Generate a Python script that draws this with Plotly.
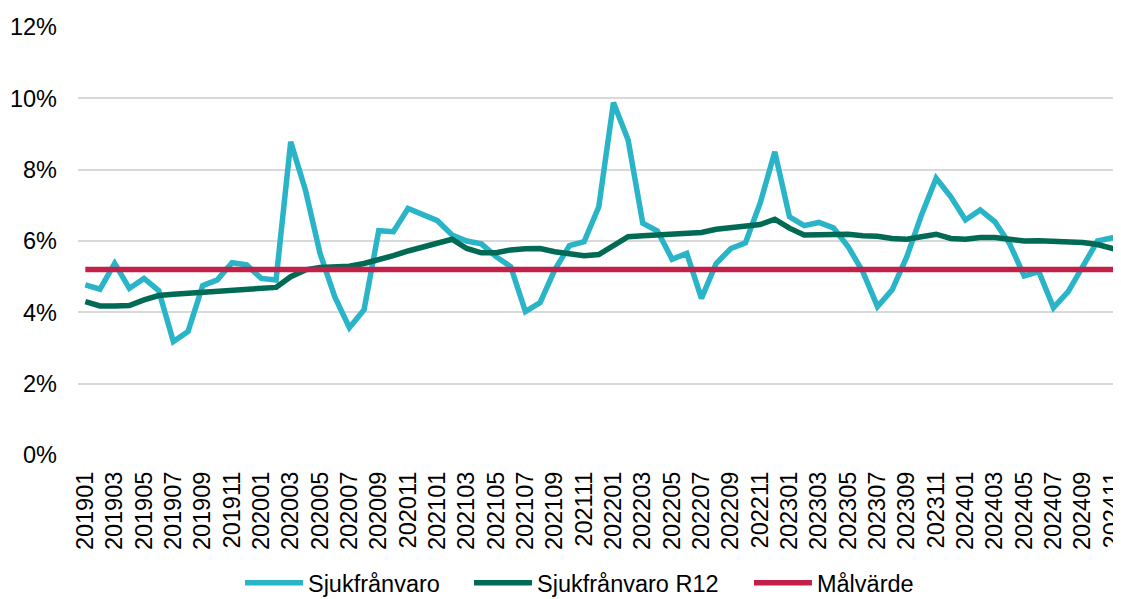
import plotly.graph_objects as go

months = [f"{y}{m:02d}" for y in range(2019, 2025) for m in range(1, 13)]

sjukfranvaro = [
    4.77, 4.65, 5.37, 4.67, 4.95, 4.61, 3.18, 3.46, 4.75, 4.91, 5.39, 5.33,
    4.95, 4.91, 8.78, 7.43, 5.65, 4.44, 3.57, 4.07, 6.29, 6.26, 6.91, 6.73,
    6.57, 6.17, 6.00, 5.92, 5.56, 5.28, 4.02, 4.27, 5.19, 5.87, 5.98, 6.96,
    9.88, 8.83, 6.50, 6.28, 5.49, 5.65, 4.39, 5.37, 5.79, 5.95, 7.06, 8.50,
    6.68, 6.43, 6.52, 6.37, 5.84, 5.14, 4.16, 4.63, 5.56, 6.73, 7.76, 7.24,
    6.59, 6.87, 6.54, 5.93, 5.02, 5.14, 4.13, 4.58, 5.33, 6.00, 6.09, 6.09,
]

sjukfranvaro_r12 = [
    4.30, 4.18, 4.18, 4.19, 4.35, 4.47, 4.51, 4.54, 4.56, 4.57, 4.63, 4.66,
    4.68, 4.70, 5.00, 5.19, 5.26, 5.28, 5.29, 5.37, 5.47, 5.59, 5.72, 5.82,
    5.95, 6.05, 5.79, 5.67, 5.67, 5.75, 5.78, 5.79, 5.70, 5.65, 5.59, 5.62,
    5.89, 6.12, 6.15, 6.17, 6.17, 6.21, 6.24, 6.33, 6.38, 6.40, 6.46, 6.61,
    6.36, 6.17, 6.17, 6.17, 6.19, 6.15, 6.13, 6.07, 6.05, 6.12, 6.19, 6.07,
    6.05, 6.10, 6.10, 6.05, 6.00, 6.01, 5.99, 5.99, 5.96, 5.90, 5.77, 5.68,
]

malvarde = [5.2] * len(months)

tick_labels = months[::2]
y_ticks = [0, 2, 4, 6, 8, 10, 12]
y_tick_text = [f"{v}%" for v in y_ticks]

FONT = "Liberation Sans, Arial, sans-serif"
FS = 23.5

fig = go.Figure()
fig.add_trace(go.Scatter(x=months, y=sjukfranvaro, name="Sjukfrånvaro", mode="lines",
                         line=dict(color="#29B4C8", width=5.5), legend="legend"))
fig.add_trace(go.Scatter(x=months, y=sjukfranvaro_r12, name="Sjukfrånvaro R12", mode="lines",
                         line=dict(color="#006A55", width=5.5), legend="legend2"))
fig.add_trace(go.Scatter(x=months, y=malvarde, name="Målvärde", mode="lines",
                         line=dict(color="#C22049", width=5.5), legend="legend3"))

def leg(x):
    return dict(orientation="h", x=x, xanchor="left", y=-0.299, yanchor="middle",
                font=dict(family=FONT, size=FS, color="#000000"), itemwidth=58,
                bgcolor="rgba(0,0,0,0)")

fig.update_layout(
    width=1113, height=591,
    margin=dict(l=70, r=0, t=19, b=144, autoexpand=False),
    paper_bgcolor="white", plot_bgcolor="white",
    font=dict(family=FONT, size=FS, color="#000000"),
    showlegend=True,
    legend=leg(0.1553),
    legend2=leg(0.3749),
    legend3=leg(0.6433),
    xaxis=dict(type="category", range=[-0.5, 70.6], tickmode="array",
               tickvals=tick_labels, ticktext=tick_labels, tickangle=-90,
               showgrid=False, showline=False, zeroline=False, ticks="",
               automargin=False,
               ticklabelstandoff=11, tickfont=dict(family=FONT, size=FS, color="#000000")),
    yaxis=dict(range=[0, 12], tickmode="array", tickvals=y_ticks, ticktext=y_tick_text,
               showgrid=True, gridcolor="#D9D9D9", gridwidth=1.5, zeroline=False,
               showline=False, ticks="", ticklabelstandoff=20, automargin=False,
               tickfont=dict(family=FONT, size=FS, color="#000000")),
)

fig.write_html("out.html")
